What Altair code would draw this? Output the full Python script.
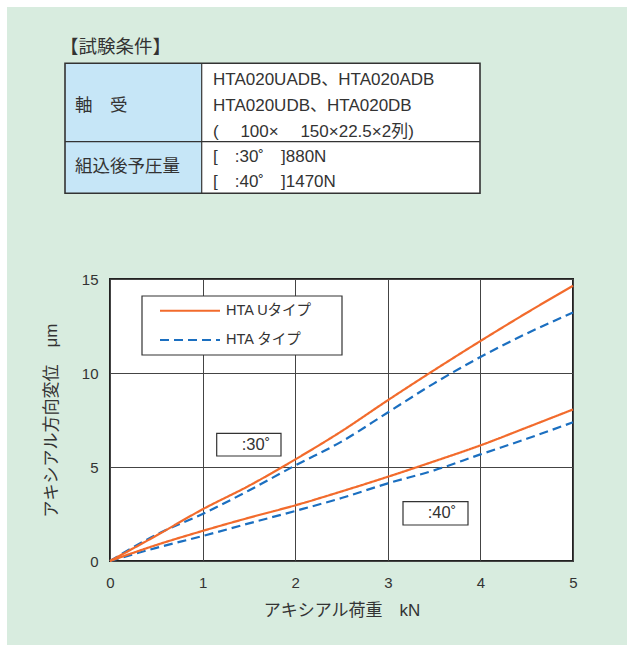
import altair as alt
import pandas as pd

# Axial load (kN) and axial displacement (μm) for each bearing type / contact angle
loads = [0, 0.5, 1, 1.5, 2, 2.5, 3, 3.5, 4, 4.5, 5]
u_type_30 = [0, 1.35, 2.75, 4.0, 5.4, 6.9, 8.55, 10.15, 11.7, 13.2, 14.64]
std_type_30 = [0, 1.4, 2.5, 3.75, 5.08, 6.35, 7.9, 9.45, 10.85, 12.1, 13.22]
u_type_40 = [0, 0.85, 1.6, 2.3, 2.96, 3.7, 4.48, 5.3, 6.15, 7.1, 8.06]
std_type_40 = [0, 0.7, 1.33, 2.0, 2.66, 3.35, 4.13, 4.82, 5.67, 6.5, 7.38]

series_names = ["HTA Uタイプ", "HTA タイプ"]
angle_labels = [":30˚", ":40˚"]

x_ticks = [0, 1, 2, 3, 4, 5]
y_ticks = [0, 5, 10, 15]

# Test-condition table text
table_title = "【試験条件】"
bearing_label = "軸　受"
bearing_lines = [
    "HTA020UADB、HTA020ADB",
    "HTA020UDB、HTA020DB",
    "(　 100×　 150×22.5×2列)",
]
preload_label = "組込後予圧量"
preload_lines = ["[　:30˚　]880N", "[　:40˚　]1470N"]

rows = []
for name, angle, vals in [
    (series_names[1], angle_labels[0], std_type_30),
    (series_names[1], angle_labels[1], std_type_40),
    (series_names[0], angle_labels[0], u_type_30),
    (series_names[0], angle_labels[1], u_type_40),
]:
    for x, y in zip(loads, vals):
        rows.append({"load": x, "disp": y, "kind": name, "angle": angle})
df = pd.DataFrame(rows)

LATIN = "Liberation Sans, Noto Sans CJK JP"
TEXT = "#333333"
one = pd.DataFrame({"k": [0]})

color_scale = alt.Scale(domain=series_names, range=["#f26b2c", "#1b6fc0"])
dash_scale = alt.Scale(domain=series_names, range=[[1, 0], [9, 5]])


def box(x, x2, y, y2, fill="white", stroke=None, sw=1.2):
    kw = dict(fill=fill)
    if stroke:
        kw.update(stroke=stroke, strokeWidth=sw)
    return alt.Chart(one).mark_rect(**kw).encode(
        x=alt.value(x), x2=alt.value(x2), y=alt.value(y), y2=alt.value(y2)
    )


def rule(x, x2, y, y2, color="#333333", sw=1.2):
    return alt.Chart(one).mark_rule(color=color, strokeWidth=sw).encode(
        x=alt.value(x), x2=alt.value(x2), y=alt.value(y), y2=alt.value(y2)
    )


def label(text, x, y, size=17, align="left", font=LATIN):
    return alt.Chart(one).mark_text(
        text=text, align=align, baseline="middle", font=font,
        fontSize=size, color=TEXT,
    ).encode(x=alt.value(x), y=alt.value(y))


# page edge strips (white margin around the tinted panel)
edges = box(-110, 517, -279, -272) + box(-110, -103, -279, 366)

# test-condition table
table = (
    label(table_title, -50, -232, size=18.5)
    + box(-45, 91.7, -215.7, -85.7, fill="#c6e6f7")
    + box(91.7, 370, -215.7, -85.7, fill="white")
    + alt.Chart(one).mark_rect(filled=False, stroke="#333333", strokeWidth=1.6).encode(
        x=alt.value(-45), x2=alt.value(370), y=alt.value(-215.7), y2=alt.value(-85.7)
    )
    + rule(-45, 370, -137.3, -137.3)
    + rule(91.7, 91.7, -215.7, -85.7)
    + label(bearing_label, -35, -173, size=17.5)
    + label(preload_label, -35, -112, size=17.5)
    + label(bearing_lines[0], 103, -199.5)
    + label(bearing_lines[1], 103, -173)
    + label(bearing_lines[2], 103, -147.3)
    + label(preload_lines[0], 103, -121.7)
    + label(preload_lines[1], 103, -97.3)
)

lines = alt.Chart(df).mark_line(strokeWidth=2.2, interpolate="monotone").encode(
    x=alt.X(
        "load:Q",
        scale=alt.Scale(domain=[0, 5], nice=False),
        axis=alt.Axis(values=x_ticks, title="アキシアル荷重　kN", labelPadding=14,
                      titlePadding=12, format="d", labelFlush=False),
    ),
    y=alt.Y(
        "disp:Q",
        scale=alt.Scale(domain=[0, 15], nice=False),
        axis=alt.Axis(values=y_ticks, title="アキシアル方向変位　μm", labelPadding=12,
                      titlePadding=21, format="d", labelFlush=False),
    ),
    color=alt.Color("kind:N", scale=color_scale, legend=None),
    strokeDash=alt.StrokeDash("kind:N", scale=dash_scale, legend=None),
    detail="angle:N",
)

# legend box
legend_df = pd.DataFrame({"kind": series_names})
legend = box(32, 232, 17, 76, fill="white", stroke="#333333", sw=1.2)
for i, name in enumerate(series_names):
    ypos = 31.7 + i * 29.3
    sub = legend_df[legend_df["kind"] == name]
    legend = legend + alt.Chart(sub).mark_rule(strokeWidth=2).encode(
        x=alt.value(50), x2=alt.value(110), y=alt.value(ypos),
        color=alt.Color("kind:N", scale=color_scale, legend=None),
        strokeDash=alt.StrokeDash("kind:N", scale=dash_scale, legend=None),
    ) + alt.Chart(sub).mark_text(
        align="left", baseline="middle", font=LATIN, fontSize=14.5, color=TEXT
    ).encode(x=alt.value(116), y=alt.value(ypos), text="kind:N")

# contact-angle tags
tags = (
    box(106.7, 171, 154.3, 177, stroke="#333333")
    + label(angle_labels[0], 146, 166, size=16.5, align="center")
    + box(293, 358, 222.7, 246, stroke="#333333")
    + label(angle_labels[1], 332, 234, size=16.5, align="center")
)

chart = alt.layer(edges, table, tags, lines, legend).properties(
    width=463,
    height=282,
    autosize=alt.AutoSizeParams(type="none"),
    padding={"left": 110, "top": 279, "right": 54, "bottom": 84},
    background="#d8ecdf",
).configure_view(
    fill="white", stroke="#222222", strokeWidth=2
).configure_axis(
    grid=True, gridColor="#444444", gridWidth=1, domain=False, ticks=False,
    tickSize=0, labelFont="Liberation Sans", labelFontSize=15, labelColor=TEXT,
    titleFont=LATIN, titleFontSize=17, titleFontWeight="normal", titleColor=TEXT,
)

chart.save("out.html", embed_options={"renderer": "svg", "actions": False})
